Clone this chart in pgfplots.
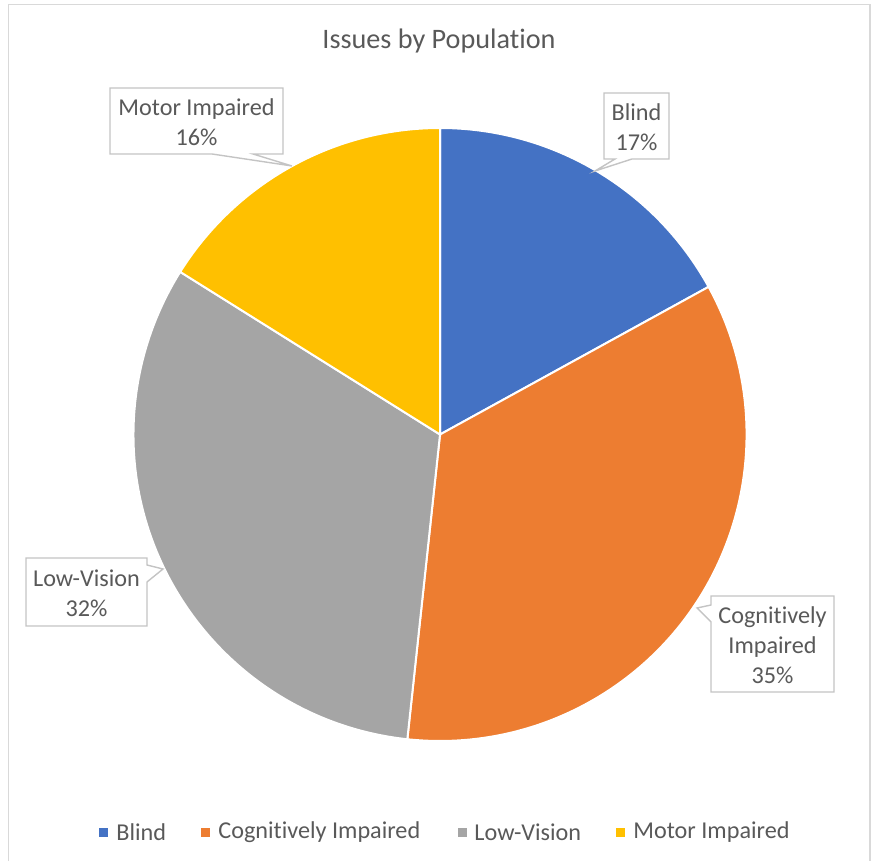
\documentclass[border=0pt]{standalone}
\usepackage{pgfplots}
\pgfplotsset{compat=1.18}
\usepackage{pgfplotstable}
\usepackage{fontspec}
\setmainfont{Carlito}[RawFeature=-liga]

\definecolor{blindc}{HTML}{4472C4}
\definecolor{cogc}{HTML}{ED7D31}
\definecolor{lowc}{HTML}{A5A5A5}
\definecolor{motorc}{HTML}{FFC000}
\definecolor{txt}{HTML}{595959}
\definecolor{frame}{HTML}{D9D9D9}
\definecolor{callout}{HTML}{C4C4C4}

\tikzset{
  lbl/.style={font=\fontsize{12.1}{15}\selectfont, text=txt, align=center},
  leg/.style={font=\fontsize{12.1}{15}\selectfont, text=txt, anchor=west, inner sep=0pt},
}

% share of issues, percent (labels show the rounded values)
\pgfplotstableread{
label value
Blind 17.0
Cognitive 34.7
LowVision 32.2
Motor 16.1
}\piedata

\begin{document}
\begin{tikzpicture}
% slice angles, clockwise from 12 o'clock
\pgfmathsetmacro\angA{90}
\pgfplotstablegetelem{0}{value}\of\piedata \pgfmathsetmacro\angB{\angA-3.6*\pgfplotsretval}
\pgfplotstablegetelem{1}{value}\of\piedata \pgfmathsetmacro\angC{\angB-3.6*\pgfplotsretval}
\pgfplotstablegetelem{2}{value}\of\piedata \pgfmathsetmacro\angD{\angC-3.6*\pgfplotsretval}
\pgfplotstablegetelem{3}{value}\of\piedata \pgfmathsetmacro\angE{\angD-3.6*\pgfplotsretval}
\def\R{153.25pt}
\begin{axis}[
  width=436pt, height=430.5pt, scale only axis,
  xmin=0, xmax=872, ymin=0, ymax=861,
  hide axis, clip=false,
  ]
\path (axis cs:0,0) rectangle (axis cs:872,861);
% chart frame (bottom edge is cut off)
\draw[frame, line width=0.8pt] (axis cs:8.5,0) -- (axis cs:8.5,856.5) -- (axis cs:870,856.5) -- (axis cs:870,0);

% title
\node[font=\fontsize{14.1}{17}\selectfont, text=txt] at (axis cs:439,820) {Issues by Population};

% pie
\fill[blindc, draw=white, line width=1pt] (axis cs:440,426.5) -- ++(\angA:\R) arc[start angle=\angA, end angle=\angB, radius=\R] -- cycle;
\fill[cogc, draw=white, line width=1pt] (axis cs:440,426.5) -- ++(\angB:\R) arc[start angle=\angB, end angle=\angC, radius=\R] -- cycle;
\fill[lowc, draw=white, line width=1pt] (axis cs:440,426.5) -- ++(\angC:\R) arc[start angle=\angC, end angle=\angD, radius=\R] -- cycle;
\fill[motorc, draw=white, line width=1pt] (axis cs:440,426.5) -- ++(\angD:\R) arc[start angle=\angD, end angle=\angE, radius=\R] -- cycle;

% callouts
\filldraw[fill=white, draw=callout, line width=0.7pt]
  (axis cs:110,773) -- (axis cs:283,773) -- (axis cs:283,707) -- (axis cs:253,707)
  -- (axis cs:292,695) -- (axis cs:212,707) -- (axis cs:110,707) -- cycle;
\node[lbl] at (axis cs:196.5,739) {Motor Impaired\\16\%};

\filldraw[fill=white, draw=callout, line width=0.7pt]
  (axis cs:604,768) -- (axis cs:669,768) -- (axis cs:669,702) -- (axis cs:632,702)
  -- (axis cs:595,690) -- (axis cs:615,702) -- (axis cs:604,702) -- cycle;
\node[lbl] at (axis cs:636.5,734) {Blind\\17\%};

\filldraw[fill=white, draw=callout, line width=0.7pt]
  (axis cs:26,303) -- (axis cs:147,303) -- (axis cs:147,296) -- (axis cs:163,292)
  -- (axis cs:147,279) -- (axis cs:147,235) -- (axis cs:26,235) -- cycle;
\node[lbl] at (axis cs:86.5,268) {Low-Vision\\32\%};

\filldraw[fill=white, draw=callout, line width=0.7pt]
  (axis cs:711,265) -- (axis cs:834,265) -- (axis cs:834,169) -- (axis cs:711,169)
  -- (axis cs:711,239) -- (axis cs:697,253) -- (axis cs:711,256) -- cycle;
\node[lbl] at (axis cs:772.5,216) {Cognitively\\Impaired\\35\%};

% legend
\fill[blindc] (axis cs:99,24) rectangle (axis cs:108,33);
\node[leg] at (axis cs:116,29) {Blind};
\fill[cogc] (axis cs:201,24) rectangle (axis cs:210,33);
\node[leg] at (axis cs:218,29) {Cognitively Impaired};
\fill[lowc] (axis cs:458,24) rectangle (axis cs:467,33);
\node[leg] at (axis cs:474,29) {Low-Vision};
\fill[motorc] (axis cs:616,24) rectangle (axis cs:625,33);
\node[leg] at (axis cs:633,29) {Motor Impaired};
\end{axis}
\end{tikzpicture}
\end{document}
